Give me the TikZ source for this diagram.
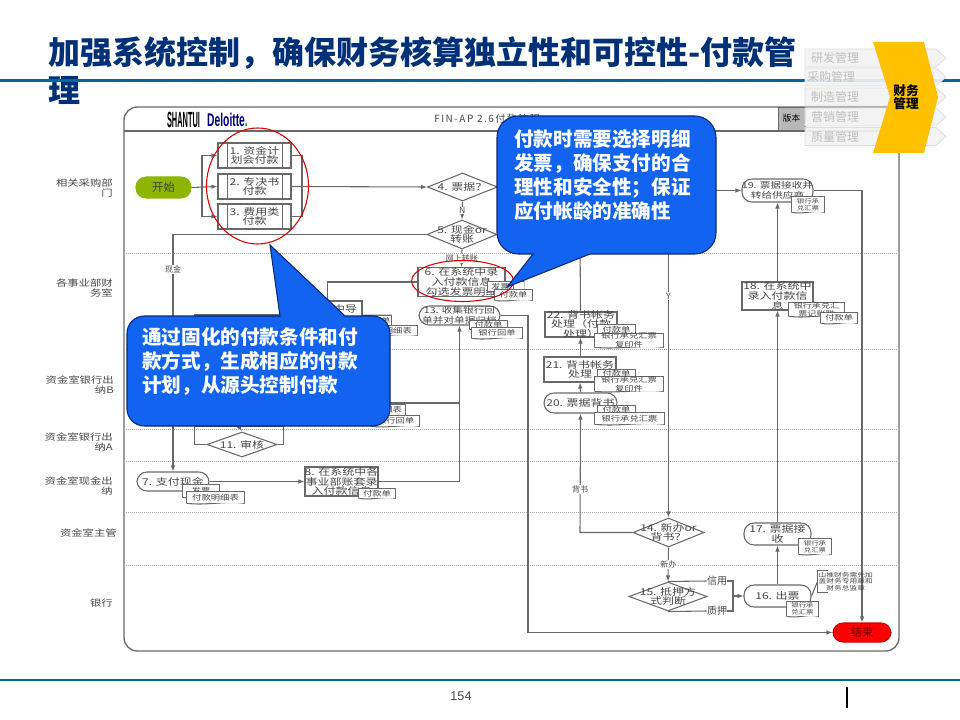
\documentclass[tikz,border=0pt]{standalone}
\usepackage{fontspec}
\usepackage{graphicx}
\setmainfont{Noto Sans CJK SC}
\newfontfamily\latinfont{Liberation Sans}
\newfontfamily\chartfont[LetterSpace=15]{Noto Sans CJK SC}
\usetikzlibrary{shapes.geometric, arrows.meta, calc}

\definecolor{titleblue}{RGB}{0,48,120}
\definecolor{rulecolor}{RGB}{0,104,150}
\definecolor{flowgrey}{RGB}{105,105,105}
\definecolor{textgrey}{RGB}{70,70,70}
\definecolor{calloutblue}{RGB}{18,100,240}
\definecolor{calloutedge}{RGB}{10,40,120}
\definecolor{tabfill}{RGB}{242,242,242}
\definecolor{tabedge}{RGB}{222,222,222}
\definecolor{tabtext}{RGB}{190,190,190}
\definecolor{goldchevron}{RGB}{255,192,0}
\definecolor{startgreen}{RGB}{142,182,0}

\def\px{0.75pt}
\newcommand{\fntmain}{\fontsize{9}{9.4}\selectfont}
\newcommand{\fntless}{\fontsize{8}{9}\selectfont}
\newcommand{\fntdoc}{\fontsize{7}{8.5}\selectfont}
\newcommand{\fntmid}{\fontsize{6.8}{7.5}\selectfont}
\newcommand{\fnttiny}{\fontsize{5.6}{6.4}\selectfont}

\begin{document}
\begin{tikzpicture}[
    x=0.75pt, y=-0.75pt,
    >={Latex[length=4.5pt,width=3.5pt]},
    wh/.style 2 args={minimum width=#1*\px, minimum height=#2*\px},
    txt/.style 2 args={label={[inner sep=0pt, align=center, text=textgrey, font=#1, yscale=0.78, transform shape]center:{#2}}},
    flowline/.style={draw=flowgrey, line width=0.8pt},
    flowbox/.style={draw=flowgrey, line width=0.8pt, fill=white, inner sep=0pt},
    stadium/.style={flowbox, rounded corners=7.5pt},
    decision/.style={flowbox, diamond},
    docpaper/.style={inner sep=0pt, fill=white,
        append after command={\pgfextra{
            \draw[flowline] (\tikzlastnode.south west) -- (\tikzlastnode.north west) -- (\tikzlastnode.north east) -- (\tikzlastnode.south east)
                .. controls ($(\tikzlastnode.south east)!0.33!(\tikzlastnode.south west)+(0,-2.5)$)
                and ($(\tikzlastnode.south east)!0.67!(\tikzlastnode.south west)+(0,2.5)$) .. (\tikzlastnode.south west);
        }}},
    lanelabel/.style={anchor=east, align=right, text=textgrey, inner sep=0pt, font=\fontsize{8.5}{9.6}\selectfont, yscale=0.8, transform shape},
    flowlabel/.style={fill=white, inner sep=0.5pt, text=textgrey, font=\fontsize{6}{6}\selectfont},
    calloutshape/.style={draw=calloutedge, line width=0.8pt, fill=calloutblue},
    callouttext/.style={anchor=west, align=left, text=white, inner sep=0pt, font=\fontsize{14.7}{18}\selectfont\bfseries},
    tabshape/.style={draw=tabedge, line width=0.6pt, fill=tabfill, fill opacity=0.92}
]
\useasboundingbox (0,0) rectangle (960,720);

% -------------------------
% Slide title and rules
% -------------------------
\node[anchor=west, align=left, inner sep=0pt, text=titleblue, font=\fontsize{24}{28.5}\selectfont\bfseries] (title) at (48,71)
    {加强系统控制，确保财务核算独立性和可控性-付款管\\理};
\draw[draw=rulecolor, line width=2.6pt] (0,80.5) -- (960,80.5);
\draw[draw=rulecolor, line width=1.6pt] (0,680) -- (960,680);
\node[text=textgrey, inner sep=0pt, font=\latinfont\fontsize{9.5}{10}\selectfont] (pageno) at (461,696) {154};
\draw[line width=1pt] (847,687) -- (847,708);

% -------------------------
% Flowchart frame and lanes
% -------------------------
\draw[flowline, line width=1pt, rounded corners=10pt] (124,107) rectangle (899,651);
\draw[flowline] (124,131) -- (899,131);
\foreach \yy in {253,349,429,461,512,565}
    \draw[flowgrey!60, line width=0.5pt, densely dotted] (124,\yy) -- (899,\yy);
\node[draw=flowgrey, fill=black!28, inner sep=0pt, wh={27}{23}, font=\fontsize{6.5}{7}\selectfont] (version) at (791.5,118.5) {版本};

\node[inner sep=0pt] (logoA) at (183.5,120) {\resizebox{24.7pt}{11.5pt}{\latinfont\bfseries SHANTUI}};
\node[inner sep=0pt, text=blue!50!black] (logoB) at (227.5,120) {\resizebox{30.5pt}{10pt}{\latinfont\bfseries Deloitte\textcolor{green!60!black}{.}}};
\node[text=textgrey, inner sep=0pt, anchor=west, font=\chartfont\fontsize{7.5}{8}\selectfont] (chartname) at (434,119) {FIN-AP 2.6付款流程};

% Lane names
\node[lanelabel] (laneA) at (113,188) {相关采购部\\门};
\node[lanelabel] (laneB) at (113,288) {各事业部财\\务室};
\node[lanelabel] (laneC) at (114,385) {资金室银行出\\纳B};
\node[lanelabel] (laneD) at (113,442) {资金室银行出\\纳A};
\node[lanelabel] (laneE) at (113,486) {资金室现金出\\纳};
\node[lanelabel] (laneF) at (117,533) {资金室主管};
\node[lanelabel] (laneG) at (113,603) {银行};

% -------------------------
% Flow steps
% -------------------------
\node[stadium, wh={55}{21}, fill=startgreen, draw=startgreen, text=black!75, font=\fontsize{8.5}{9}\selectfont] (start) at (163.5,187.5) {开始};
\node[flowbox, wh={73}{25}, txt={\fntmain}{1. 资金计\\划会付款}] (b1) at (254.5,155.5) {};
\node[flowbox, wh={73}{25}, txt={\fntmain}{2. 专决书\\付款}] (b2) at (254.5,186.5) {};
\node[flowbox, wh={73}{25}, txt={\fntmain}{3. 费用类\\付款}] (b3) at (254.5,216.5) {};
\foreach \n in {b1,b2,b3} {
    \draw[flowline] ([xshift=10*\px]\n.north west) -- ([xshift=10*\px]\n.south west);
    \draw[flowline] ([xshift=-9*\px]\n.north east) -- ([xshift=-9*\px]\n.south east);
}
\node[decision, wh={70}{28}, txt={\fntmain}{4. 票据？}] (d4) at (462.5,187) {};
\node[decision, wh={70}{29}, txt={\fntmain}{5. 现金or\\转账}] (d5) at (462,234.5) {};
\node[flowbox, wh={87}{29}, txt={\fntmain}{6. 在系统中录\\入付款信息\\勾选发票明细}] (b6) at (461.5,282) {};
\node[flowbox, wh={34}{16}, txt={\fntmain}{中导}] (b10) at (345,309) {};
\node[flowbox, wh={88}{111}] (b9) at (239,370.5) {};
\node[stadium, wh={72}{19}, txt={\fntmain}{7. 支付现金}] (s7) at (173,481.5) {};
\node[flowbox, wh={73}{29}, txt={\fntmain}{8. 在系统中各\\事业部账套录\\入付款信息}] (b8) at (341.5,481.5) {};
\node[decision, wh={70}{25}, txt={\fntmain}{11. 审核}] (d11) at (242,444.5) {};
\node[stadium, wh={81}{19}, txt={\fntless}{13. 收集银行回\\单并对单据归档}] (s13) at (459.5,315.5) {};
\node[decision, wh={71}{29}, txt={\fntmain}{14. 新办or\\背书？}] (d14) at (668.5,532.5) {};
\node[decision, wh={78}{29}, txt={\fntmain}{15. 抵押方\\式判断}] (d15) at (668,596.5) {};
\node[stadium, wh={67}{22}, txt={\fntmain}{16. 出票}] (s16) at (777.5,596) {};
\node[stadium, wh={67}{22}, txt={\fntmain}{17. 票据接\\收}] (s17) at (777.5,534) {};
\node[flowbox, wh={71}{28}, txt={\fntmain}{18. 在系统中\\录入付款信\\息}] (b18) at (777.5,296) {};
\node[stadium, wh={71}{23}, txt={\fntless}{19. 票据接收并\\转给供应商}] (s19) at (777.5,190.5) {};
\node[stadium, wh={73}{20}, txt={\fntmain}{20. 票据背书}] (s20) at (580.5,403) {};
\node[flowbox, wh={72}{25}, txt={\fntmain}{21. 背书帐务\\处理}] (b21) at (580,369.5) {};
\node[flowbox, wh={72}{25}, txt={\fntmain}{22. 背书帐务\\处理（付款\\处理）}] (b22) at (581,324.5) {};
\node[stadium, wh={58}{19}, fill=red, draw=red!80!black, text=red!40!black, font=\fontsize{8.5}{9}\selectfont] (finish) at (862,632.5) {结束};

% Branch words
\node[text=textgrey, inner sep=0pt, font=\fontsize{7.5}{8}\selectfont] (credit) at (717,581) {信用};
\node[text=textgrey, inner sep=0pt, font=\fontsize{7.5}{8}\selectfont] (pledge) at (717,611) {质押};

% -------------------------
% Connectors
% -------------------------
\coordinate (splitL) at (202,187);
\coordinate (joinR) at (302,187);
\coordinate (merge) at (733,596);
\coordinate (j13) at (459.5,403);
\coordinate (j12) at (385,403);
\coordinate (j22) at (580,234);

\draw[flowline, ->] (start.east) -- (b2.west);
\draw[flowline, ->] (splitL) |- (b1.west);
\draw[flowline, ->] (splitL) |- (b3.west);
\draw[flowline] (b1.east) -| (joinR);
\draw[flowline] (b3.east) -| (joinR);
\draw[flowline, ->] (b2.east) -- (d4.west);
\draw[flowline, ->] (d4.south) -- node[flowlabel, font=\fontsize{6.5}{7}\selectfont] {N} (d5.north);
\draw[flowline, ->] (d4.east) -- ++(30,0) |- (s19.west);
\draw[flowline, ->] (d5.south) -- node[flowlabel] {网上转账} (b6.north);
\draw[flowline, ->] (d5.west) -| node[flowlabel, pos=0.574] {现金} (s7.north);
\draw[flowline, ->] (d5.east) -| node[flowlabel, font=\fontsize{6.5}{7}\selectfont, pos=0.609] {Y} (d14.north);
\draw[flowline] (b6.west) -| (b10.south west);
\draw[flowline, ->] (s7.east) -- (b8.west);
\draw[flowline, ->] (b8.east) -| (s13.south);
\draw[flowline] (j12) -- (j13);
\draw[flowline, ->] (b9.south) -- (d11.north);
\draw[flowline] (d11.west) -| (b9.south west);
\draw[flowline] (d11.east) -| (b9.south east);
\draw[flowline, ->] (s13.east) -- (528,315.5) |- (finish.west);
\draw[flowline, ->] (d14.south) -- node[flowlabel] {新办} (d15.north);
\draw[flowline, ->] (d14.west) -- (580,532.5) -- node[flowlabel, pos=0.36] {背书} (s20.south);
\draw[flowline, ->] (s20.north) -- (b21.south);
\draw[flowline, ->] (b21.north -| s20.north) -- (b22.south -| s20.north);
\draw[flowline] (b22.north -| s20.north) -- (j22);
\draw[flowline] (d15.north) -- (credit.west);
\draw[flowline] (d15.south) -- (pledge.west);
\draw[flowline] (credit.east) -- (733,581) -- (733,611) -- (pledge.east);
\draw[flowline, ->] (merge) -- (s16.west);
\draw[flowline, ->] (s16.north) -- (s17.south);
\draw[flowline, ->] (s17.north) -- (b18.south);
\draw[flowline, ->] (b18.north) -- (s19.south);
\draw[flowline, ->] (s19.east) -| (finish.north);

% -------------------------
% Paper documents beside the steps
% -------------------------
\node[docpaper, wh={19}{9}] (doc6c) at (514,286.5) {};
\node[docpaper, wh={25}{9}, txt={\fntdoc}{发票}] (doc6a) at (500.5,286.5) {};
\node[docpaper, wh={37}{10}, txt={\fntdoc}{付款单}] (doc6b) at (513.5,295) {};
\node[docpaper, wh={29}{11}, txt={\fntdoc}{付款单}] (doc9a) at (376.5,321) {};
\node[docpaper, wh={57}{9}, txt={\fntdoc}{付款明细表}] (doc9b) at (388.5,330.5) {};
\node[docpaper, wh={53}{10}, txt={\fntdoc}{付款明细表}] (doc12a) at (378.5,410) {};
\node[docpaper, wh={47}{10}, txt={\fntdoc}{银行回单}] (doc12b) at (395.5,421) {};
\node[docpaper, wh={37}{8}, txt={\fntdoc}{付款单}] (doc13a) at (488.5,325) {};
\node[docpaper, wh={50}{10}, txt={\fntdoc}{银行回单}] (doc13b) at (497,333) {};
\node[docpaper, wh={37}{9}, txt={\fntdoc}{付款单}] (doc22a) at (616.5,329.5) {};
\node[docpaper, wh={68}{13}, txt={\fntdoc}{银行承兑汇票\\复印件}] (doc22b) at (629,340.5) {};
\node[docpaper, wh={37}{7}, txt={\fntdoc}{付款单}] (doc21a) at (616.5,373.5) {};
\node[docpaper, wh={68}{14}, txt={\fntdoc}{银行承兑汇票\\复印件}] (doc21b) at (629,384) {};
\node[docpaper, wh={37}{7}, txt={\fntdoc}{付款单}] (doc20a) at (616.5,409.5) {};
\node[docpaper, wh={69}{11}, txt={\fntdoc}{银行承兑汇票}] (doc20b) at (629.5,418.5) {};
\node[docpaper, wh={32}{15}, txt={\fnttiny}{银行承\\兑汇票}] (doc19) at (808,204.5) {};
\node[docpaper, wh={55}{13}, txt={\fntmid}{银行承兑汇\\票记账联}] (doc18a) at (816.5,309.5) {};
\node[docpaper, wh={36}{10}, txt={\fntdoc}{付款单}] (doc18b) at (839,318) {};
\node[docpaper, wh={32}{15}, txt={\fnttiny}{银行承\\兑汇票}] (doc17) at (815,546.5) {};
\node[docpaper, wh={31}{14}, txt={\fnttiny}{银行承\\兑汇票}] (doc16) at (802.5,609) {};
\node[docpaper, wh={36}{12}, txt={\fntdoc}{发票}] (doc7a) at (201,491) {};
\node[docpaper, wh={57}{11}, txt={\fntdoc}{付款明细表}] (doc7b) at (215.5,497.5) {};
\node[docpaper, wh={36}{9}, txt={\fntdoc}{付款单}] (doc8) at (377,493.5) {};

% Note beside step 16
\node[anchor=west, inner sep=0pt, wh={56}{21}, txt={\fontsize{5.8}{6.4}\selectfont}{山推财务需先加\\盖财务专用章和\\财务总监章}] (note16) at (817.5,581.5) {};
\draw[flowline] ([xshift=10*\px]note16.north west) -- (note16.north west) -- (note16.south west) -- ([xshift=10*\px]note16.south west);
\draw[flowline] (s16.east) -- (note16.west);

% -------------------------
% Red rings
% -------------------------
\node[draw=red!85!black, line width=0.8pt, ellipse, inner sep=0pt, wh={102}{116}] (ringA) at (257.5,186) {};
\node[draw=red!85!black, line width=0.8pt, ellipse, inner sep=0pt, wh={102}{41}] (ringB) at (462.5,281) {};

% -------------------------
% Callouts
% -------------------------
\draw[calloutshape, rounded corners=13pt] (127,371) -- (127,316) -- (200,316) [sharp corners] -- (280,316) -- (270,245) -- (345,316) -- (365,316) [rounded corners=13pt] -- (390,316) -- (390,426) -- (127,426) -- cycle;
\node[callouttext] (noteA) at (142,361.5) {通过固化的付款条件和付\\款方式，生成相应的付款\\计划，从源头控制付款};

\draw[calloutshape, rounded corners=16pt] (497,185) -- (497,116) -- (716,116) -- (716,254) -- (620,254) [sharp corners] -- (590,254) -- (507,287) -- (533,254) -- (518,254) [rounded corners=16pt] -- (497,254) -- cycle;
\node[callouttext] (noteB) at (514,175.5) {付款时需要选择明细\\发票，确保支付的合\\理性和安全性；保证\\应付帐龄的准确性};

% -------------------------
% Chapter marker, top right
% -------------------------
\foreach \n/\yy/\tx/\lbl in {1/49/835/研发管理,2/68/831/采购管理,3/88/835/制造管理,4/108/835/营销管理,5/127.5/835/质量管理} {
    \draw[tabshape] (805,\yy) -- (936,\yy) -- (946,\yy+9) -- (936,\yy+18) -- (805,\yy+18) -- cycle;
    \node[text=tabtext, inner sep=0pt, font=\fontsize{9}{10}\selectfont] (tab\n) at (\tx,\yy+9) {\lbl};
}
\fill[goldchevron] (873,42) -- (924,42) -- (938,97) -- (924,153) -- (873,153) -- (890,97) -- cycle;
\node[align=center, inner sep=0pt, font=\fontsize{9.5}{9.8}\selectfont\bfseries] (chapter) at (906,97) {财务\\管理};

\end{tikzpicture}
\end{document}
